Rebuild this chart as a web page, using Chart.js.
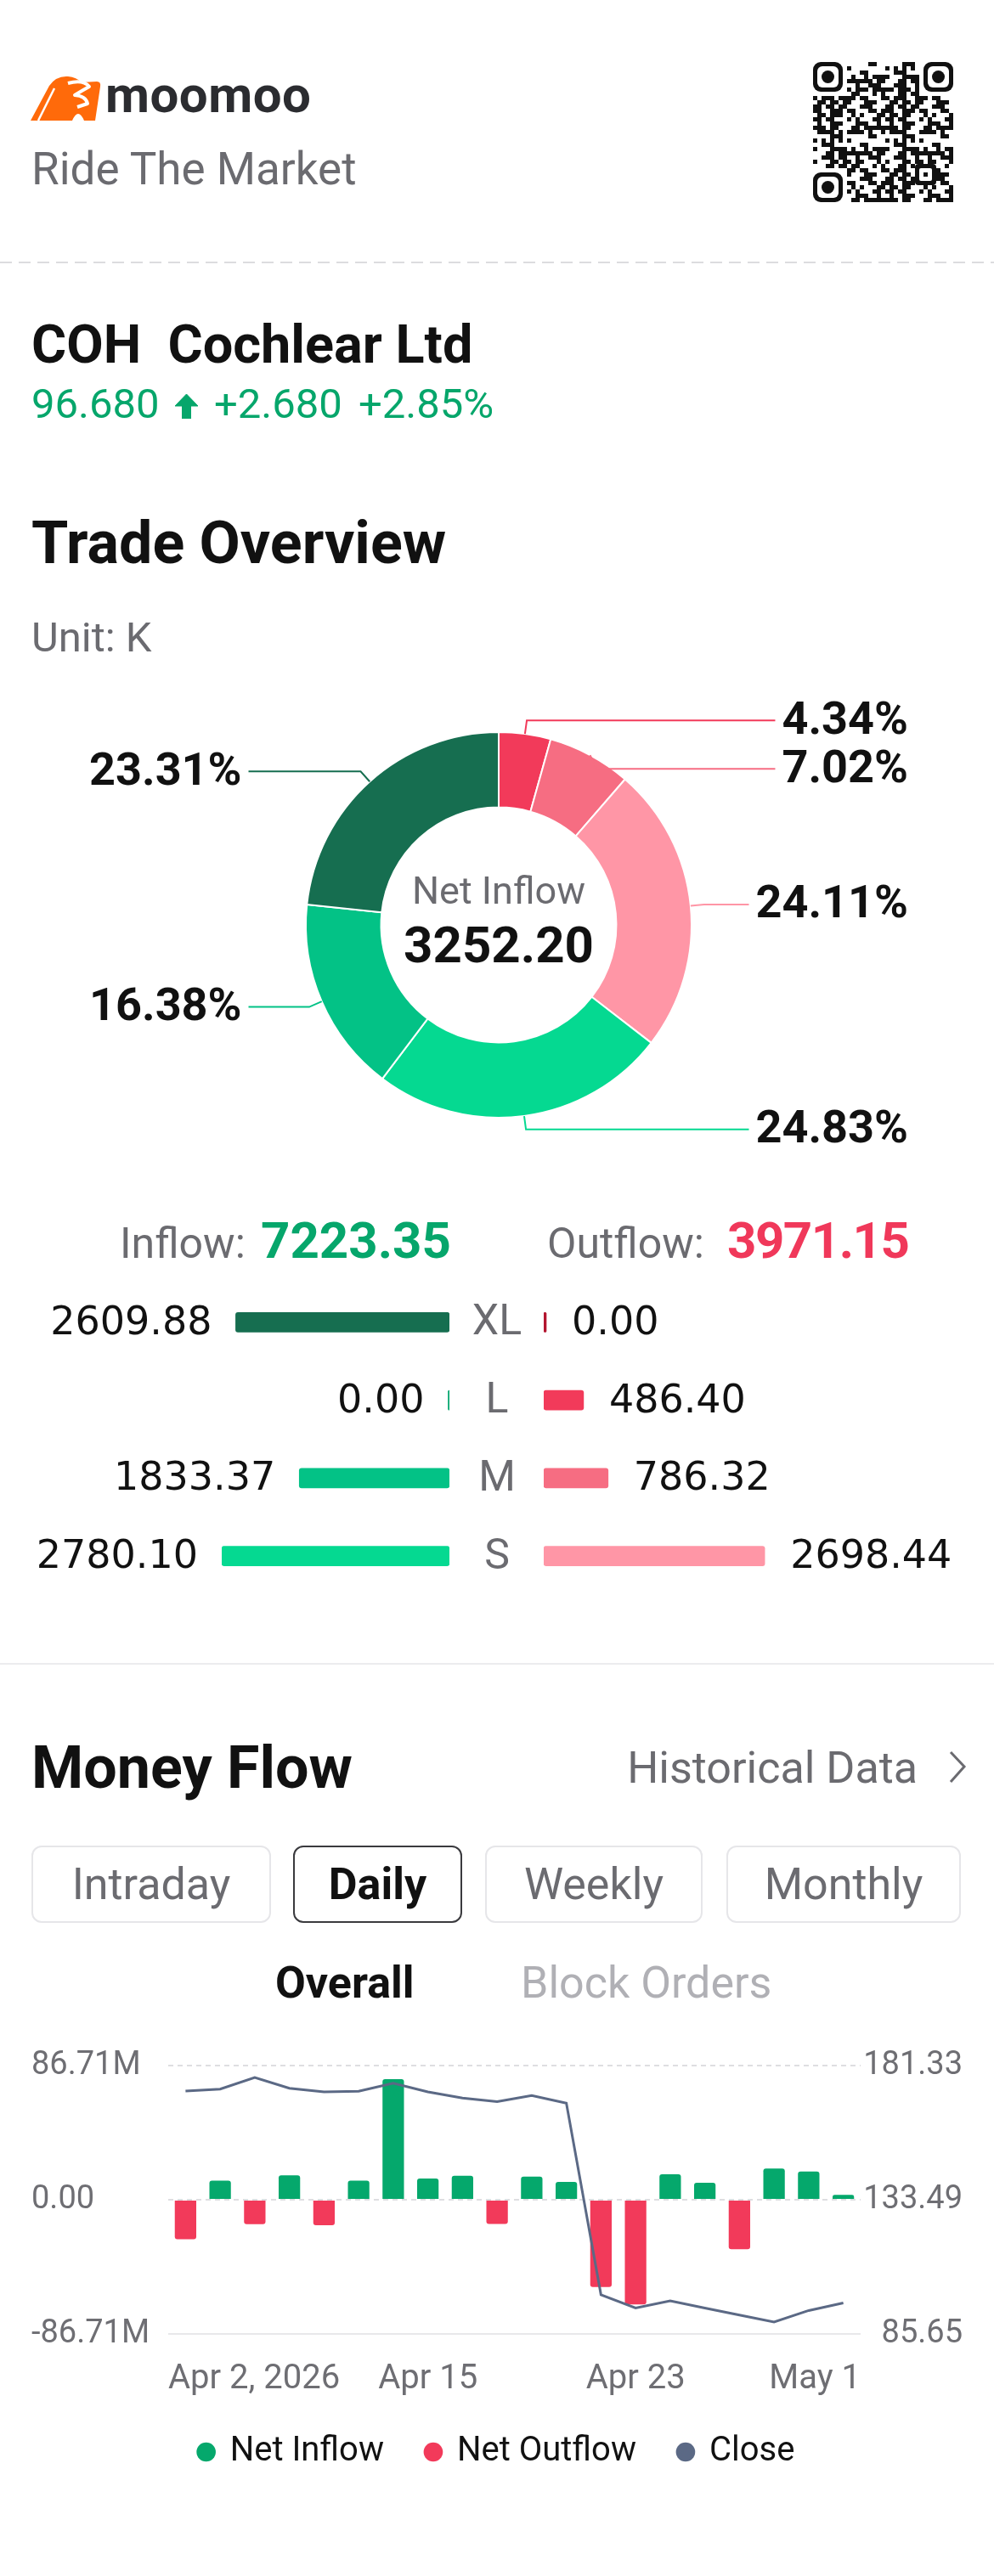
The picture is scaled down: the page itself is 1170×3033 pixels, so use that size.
<!DOCTYPE html>
<html lang="en">
<head>
<meta charset="utf-8">
<title>COH Cochlear Ltd - Money Flow</title>
<script src="https://cdn.jsdelivr.net/npm/chart.js@4.4.1/dist/chart.umd.min.js"></script>
<style>
  html, body { margin: 0; padding: 0; background: #fff; }
  body { position: relative; width: 1170px; height: 3033px; overflow: hidden; font-family: Roboto, "Noto Sans", sans-serif; color: #111; }
  .t { position: absolute; white-space: pre; line-height: 1; }
  .gray { color: #6b6b70; }
  .b { font-weight: 700; }
  canvas, svg { position: absolute; }
  .tab { position: absolute; top: 2173px; height: 91px; box-sizing: border-box; border: 2px solid #e6e6e9; border-radius: 12px;
         display: flex; align-items: center; justify-content: center; font-size: 52px; color: #6b6b70; }
  .tab.on { border-color: #3a3a3e; color: #111; font-weight: 700; }
</style>
</head>
<body>

<!-- header -->
<svg style="left:30px;top:85px" width="95" height="62" viewBox="0 0 95 62">
  <path d="M6 57 L28 16 Q36 4 50 5 Q60 6 66 12 L84 11 Q89 11 88 17 L82 57 L69 57 Q62 41 55 57 Z" fill="#ff6a0a"/>
  <line x1="15" y1="57" x2="34" y2="19" stroke="#fff" stroke-width="2.5"/>
  <path d="M50 13 Q68 8 75 17 Q66 22 58 27 Q71 28 73 37 L61 41" stroke="#fff" stroke-width="4" fill="none" stroke-linejoin="round"/>
</svg>
<div class="t b" style="left:124px;top:82px;font-size:60px;color:#2b2c30;letter-spacing:0.5px">moomoo</div>
<div class="t gray" style="left:37px;top:173px;font-size:53px">Ride The Market</div>
<canvas id="qr" width="165" height="165" style="left:957px;top:73px"></canvas>
<svg style="left:0;top:303px" width="1170" height="12">
  <line x1="0" y1="6" x2="1170" y2="6" stroke="#dcdcdf" stroke-width="2" stroke-dasharray="14 8"/>
</svg>

<!-- quote -->
<div class="t b" style="left:37px;top:374px;font-size:63px">COH  Cochlear Ltd</div>
<div class="t" style="left:37px;top:451px;font-size:49px;color:#06a66b">96.680</div>
<svg style="left:206px;top:464px" width="27" height="29" viewBox="0 0 27 29">
  <path d="M13.5 0 L27 14 L18.5 14 L18.5 29 L8.5 29 L8.5 14 L0 14 Z" fill="#06a66b" stroke="#06a66b" stroke-width="1" stroke-linejoin="round"/>
</svg>
<div class="t" style="left:252px;top:451px;font-size:49px;color:#06a66b">+2.680</div>
<div class="t" style="left:422px;top:451px;font-size:49px;color:#06a66b">+2.85%</div>

<!-- trade overview -->
<div class="t b" style="left:37px;top:604px;font-size:70px">Trade Overview</div>
<div class="t gray" style="left:37px;top:726px;font-size:49px">Unit: K</div>
<canvas id="donut" width="1170" height="600" style="left:0;top:790px"></canvas>

<div class="t gray" style="left:141px;top:1439px;font-size:50px">Inflow:</div>
<div class="t b" style="left:307px;top:1431px;font-size:60px;color:#06a66b" id="inTotal"></div>
<div class="t gray" style="left:644px;top:1439px;font-size:50px">Outflow:</div>
<div class="t b" style="left:856px;top:1431px;font-size:60px;color:#f0385a;letter-spacing:-1.5px" id="outTotal"></div>

<canvas id="inBars" width="540" height="367" style="left:0;top:1511px"></canvas>
<canvas id="outBars" width="630" height="367" style="left:540px;top:1511px"></canvas>

<div style="position:absolute;left:0;top:1958px;width:1170px;height:2px;background:#ececee"></div>

<!-- money flow -->
<div class="t b" style="left:37px;top:2046px;font-size:70px">Money Flow</div>
<div class="t gray" style="right:90px;top:2056px;font-size:52px">Historical Data</div>
<svg style="left:1112px;top:2058px" width="30" height="46" viewBox="0 0 30 46">
  <polyline points="7,5 23,22 7,40" stroke="#6b6b70" stroke-width="3" fill="none"/>
</svg>

<div class="tab" style="left:37px;width:282px">Intraday</div>
<div class="tab on" style="left:345px;width:199px">Daily</div>
<div class="tab" style="left:571px;width:256px">Weekly</div>
<div class="tab" style="left:855px;width:276px">Monthly</div>

<div class="t b" style="left:324px;top:2309px;font-size:52px">Overall</div>
<div class="t" style="left:613px;top:2309px;font-size:52px;color:#b0b0b5">Block Orders</div>

<canvas id="moneyFlow" width="1170" height="516" style="left:0;top:2401px"></canvas>

<script>
Chart.defaults.font.family = 'Roboto';

// trade overview, unit K
const sizes = ['XL', 'L', 'M', 'S'];
const inflow = [2609.88, 0.00, 1833.37, 2780.10];
const outflow = [0.00, 486.40, 786.32, 2698.44];
const inflowTotal = 7223.35;
const outflowTotal = 3971.15;
const netInflow = 3252.20;

const inflowColors = ['#166e50', '#0aa871', '#03c286', '#05d991'];
const outflowColors = ['#b3152f', '#f23a5a', '#f66d82', '#ff96a6'];

// money flow, daily (M) and close price
const dates = ['Apr 2', 'Apr 7', 'Apr 8', 'Apr 9', 'Apr 10', 'Apr 13', 'Apr 14', 'Apr 15', 'Apr 16', 'Apr 17',
               'Apr 20', 'Apr 21', 'Apr 22', 'Apr 23', 'Apr 24', 'Apr 27', 'Apr 28', 'Apr 29', 'Apr 30', 'May 1'];
const netFlow = [-25.5, 12.3, -15.8, 15.8, -16.4, 12.3, 77.9, 13.7, 15.5, -15.7,
                 14.9, 11.5, -56.4, -67.7, 16.4, 11.0, -31.9, 20.2, 18.2, 3.1];
const closePrice = [172.24, 172.96, 177.06, 173.26, 171.94, 172.15, 175.07, 171.94, 169.74, 168.44,
                    170.64, 167.93, 99.62, 94.92, 97.42, 94.90, 92.40, 89.90, 94.00, 96.68];
const flowTicks = [-86.71, 0, 86.71];
const closeTicks = [85.65, 133.49, 181.33];
const dateTicks = ['Apr 2', 'Apr 15', 'Apr 23', 'May 1'];
const dateTickText = ['Apr 2, 2026', 'Apr 15', 'Apr 23', 'May 1'];

document.getElementById('inTotal').textContent = inflowTotal.toFixed(2);
document.getElementById('outTotal').textContent = outflowTotal.toFixed(2);

// qr code (decoration only)
(function () {
  const c = document.getElementById('qr').getContext('2d');
  const n = 33, m = 5;
  c.fillStyle = '#111';
  const inFinder = (x, y) => (x < 8 && y < 8) || (x > n - 9 && y < 8) || (x < 8 && y > n - 9);
  for (let y = 0; y < n; y++) {
    for (let x = 0; x < n; x++) {
      if (inFinder(x, y)) continue;
      if (x >= 24 && x <= 28 && y >= 24 && y <= 28) continue;
      const h = ((x * 37 + 11) * (y * 53 + 7) + x * x * 3 + y * 5) % 17;
      if (h < 8 || (x === 6 && y % 2 === 0) || (y === 6 && x % 2 === 0)) c.fillRect(x * m, y * m, m, m);
    }
  }
  function rr(x, y, w, h, r) { c.beginPath(); c.roundRect(x, y, w, h, r); c.fill(); }
  [[0, 0], [26, 0], [0, 26]].forEach(([fx, fy]) => {
    c.fillStyle = '#111'; rr(fx * m, fy * m, 35, 35, 9);
    c.fillStyle = '#fff'; rr(fx * m + 5, fy * m + 5, 25, 25, 6);
    c.fillStyle = '#111'; c.beginPath(); c.arc(fx * m + 17.5, fy * m + 17.5, 7.5, 0, Math.PI * 2); c.fill();
  });
  c.fillStyle = '#111'; rr(120, 120, 25, 25, 4);
  c.fillStyle = '#fff'; rr(125, 125, 15, 15, 2);
  c.fillStyle = '#111'; c.fillRect(130, 130, 5, 5);
})();

// donut section
const donutValues = outflow.concat(inflow.slice().reverse());
const donutColors = outflowColors.concat(inflowColors.slice().reverse());
const donutNames = sizes.map(s => 'Outflow ' + s).concat(sizes.slice().reverse().map(s => 'Inflow ' + s));
const donutTotal = donutValues.reduce((a, b) => a + b, 0);

const donutLabels = {
  id: 'donutLabels',
  afterDatasetsDraw(chart) {
    const ctx = chart.ctx;
    const meta = chart.getDatasetMeta(0);
    const items = [];
    let cx = 0, cy = 0;
    meta.data.forEach((arc, i) => {
      const p = arc.getProps(['x', 'y', 'startAngle', 'endAngle', 'outerRadius'], true);
      cx = p.x; cy = p.y;
      if (!donutValues[i]) return;
      const a = (p.startAngle + p.endAngle) / 2;
      const r2 = p.outerRadius + 16;
      items.push({
        ox: p.x + Math.cos(a) * p.outerRadius, oy: p.y + Math.sin(a) * p.outerRadius,
        ex: p.x + Math.cos(a) * r2, ly: p.y + Math.sin(a) * r2,
        right: Math.cos(a) >= 0, color: donutColors[i],
        text: (donutValues[i] / donutTotal * 100).toFixed(2) + '%'
      });
    });
    [true, false].forEach(side => {
      const list = items.filter(it => it.right === side).sort((a, b) => a.ly - b.ly);
      for (let k = 1; k < list.length; k++) {
        if (list[k].ly - list[k - 1].ly < 57) list[k].ly = list[k - 1].ly + 57;
      }
    });
    ctx.save();
    ctx.font = 'bold 54px Roboto';
    ctx.textBaseline = 'middle';
    items.forEach(it => {
      const w = ctx.measureText(it.text).width;
      const tx = it.right ? 1069 - w : 105;
      const lx = it.right ? tx - 8 : tx + w + 8;
      ctx.strokeStyle = it.color;
      ctx.lineWidth = 2;
      ctx.beginPath();
      ctx.moveTo(it.ox, it.oy);
      ctx.lineTo(it.ex, it.ly);
      ctx.lineTo(lx, it.ly);
      ctx.stroke();
      ctx.fillStyle = '#111';
      ctx.textAlign = 'left';
      ctx.fillText(it.text, tx, it.ly + 2);
    });
    ctx.textAlign = 'center';
    ctx.fillStyle = '#6b6b70';
    ctx.font = '45px Roboto';
    ctx.fillText('Net Inflow', cx, cy - 36);
    ctx.fillStyle = '#111';
    ctx.font = 'bold 60px Roboto';
    ctx.fillText(netInflow.toFixed(2), cx, cy + 29);
    ctx.restore();
  }
};

new Chart(document.getElementById('donut'), {
  type: 'doughnut',
  data: {
    labels: donutNames,
    datasets: [{ data: donutValues, backgroundColor: donutColors, borderColor: '#fff', borderWidth: 2, hoverOffset: 0 }]
  },
  options: {
    responsive: false, animation: false, events: [],
    cutout: '61%',
    layout: { padding: { left: 359, right: 355, top: 71, bottom: 73 } },
    plugins: { legend: { display: false }, tooltip: { enabled: false } }
  },
  plugins: [donutLabels]
});

// inflow / outflow bars by order size
const flowMax = Math.max(...inflow, ...outflow);

const flowValueLabels = {
  id: 'flowValueLabels',
  afterDatasetsDraw(chart, args, opts) {
    const ctx = chart.ctx;
    const vals = chart.data.datasets[0].data;
    ctx.save();
    ctx.textBaseline = 'middle';
    ctx.font = '46px "DejaVu Sans"';
    ctx.fillStyle = '#111';
    chart.getDatasetMeta(0).data.forEach((bar, i) => {
      const lo = Math.min(bar.x, bar.base), hi = Math.max(bar.x, bar.base);
      if (opts.side === 'left') {
        ctx.textAlign = 'right';
        ctx.fillText(vals[i].toFixed(2), lo - 28, bar.y + 2);
      } else {
        ctx.textAlign = 'left';
        ctx.fillText(vals[i].toFixed(2), hi + 30, bar.y + 2);
      }
    });
    if (opts.side === 'right') {
      const yScale = chart.scales.y;
      ctx.font = '50px Roboto';
      ctx.fillStyle = '#6b6b70';
      ctx.textAlign = 'center';
      sizes.forEach((s, i) => ctx.fillText(s, chart.chartArea.left - 55, yScale.getPixelForValue(i) + 2));
    }
    ctx.restore();
  }
};

function flowBarChart(id, values, colors, side, padding) {
  return new Chart(document.getElementById(id), {
    type: 'bar',
    data: {
      labels: sizes,
      datasets: [{ data: values, backgroundColor: colors, barThickness: 23, borderRadius: 3, borderSkipped: false, minBarLength: 3 }]
    },
    options: {
      indexAxis: 'y', responsive: false, animation: false, events: [],
      layout: { padding: padding },
      scales: {
        x: { display: false, min: 0, max: flowMax, reverse: side === 'left' },
        y: { display: false }
      },
      plugins: { legend: { display: false }, tooltip: { enabled: false }, flowValueLabels: { side: side } }
    },
    plugins: [flowValueLabels]
  });
}
flowBarChart('inBars', inflow, inflowColors, 'left', { left: 261, right: 11, top: 0, bottom: 0 });
flowBarChart('outBars', outflow, outflowColors, 'right', { left: 100, right: 262, top: 0, bottom: 0 });

// money flow chart
const dateLabels = {
  id: 'dateLabels',
  afterDraw(chart) {
    const ctx = chart.ctx;
    const xs = chart.scales.x;
    const area = chart.chartArea;
    ctx.save();
    ctx.font = '40px Roboto';
    ctx.fillStyle = '#6e6e73';
    ctx.textBaseline = 'middle';
    ctx.textAlign = 'left';
    dateTicks.forEach((d, k) => {
      const x = xs.getPixelForValue(dates.indexOf(d));
      const w = ctx.measureText(dateTickText[k]).width;
      const left = Math.min(Math.max(x - w / 2, area.left), area.right - w);
      ctx.fillText(dateTickText[k], left, area.bottom + 54);
    });
    ctx.restore();
  }
};

const tickFont = { family: 'Roboto', size: 38 };

new Chart(document.getElementById('moneyFlow'), {
  data: {
    labels: dates,
    datasets: [
      {
        type: 'bar', label: 'Net Inflow', yAxisID: 'y', grouped: false,
        data: netFlow.map(v => v > 0 ? v : null),
        backgroundColor: '#05a86c', barPercentage: 0.62, categoryPercentage: 1, borderRadius: 3
      },
      {
        type: 'bar', label: 'Net Outflow', yAxisID: 'y', grouped: false,
        data: netFlow.map(v => v < 0 ? v : null),
        backgroundColor: '#f23a5a', barPercentage: 0.62, categoryPercentage: 1, borderRadius: 3
      },
      {
        type: 'line', label: 'Close', yAxisID: 'y1', order: -1,
        data: closePrice,
        borderColor: '#5b6985', backgroundColor: '#5b6985', borderWidth: 3, pointRadius: 0, tension: 0
      }
    ]
  },
  options: {
    responsive: false, animation: false, events: [],
    layout: { padding: { left: 37, right: 37, top: 31, bottom: 0 } },
    scales: {
      x: {
        offset: true,
        grid: { display: false }, border: { display: false }, ticks: { display: false },
        afterFit: s => { s.height = 69; }
      },
      y: {
        position: 'left', min: flowTicks[0], max: flowTicks[flowTicks.length - 1],
        afterBuildTicks: s => { s.ticks = flowTicks.map(v => ({ value: v })); },
        ticks: {
          font: tickFont, color: '#6e6e73', padding: 0, crossAlign: 'far',
          callback: v => v === 0 ? '0.00' : v.toFixed(2) + 'M'
        },
        grid: { drawTicks: false, lineWidth: 2, color: c => c.index === 0 ? '#e8e8ea' : '#dedee1' },
        border: { display: false, dash: c => c.index === 0 ? [] : [6, 5] },
        afterFit: s => { s.width = 161; }
      },
      y1: {
        position: 'right', min: closeTicks[0], max: closeTicks[closeTicks.length - 1],
        afterBuildTicks: s => { s.ticks = closeTicks.map(v => ({ value: v })); },
        ticks: { font: tickFont, color: '#6e6e73', padding: 0, crossAlign: 'far', callback: v => v.toFixed(2) },
        grid: { display: false }, border: { display: false },
        afterFit: s => { s.width = 120; }
      }
    },
    plugins: {
      tooltip: { enabled: false },
      legend: {
        position: 'bottom',
        labels: {
          usePointStyle: true, pointStyle: 'circle', boxWidth: 16, boxHeight: 16, padding: 50,
          color: '#111', font: { family: 'Roboto', size: 40 },
          sort: (a, b) => a.datasetIndex - b.datasetIndex,
          generateLabels: chart => Chart.defaults.plugins.legend.labels.generateLabels(chart)
            .map(item => Object.assign(item, { lineWidth: 0 }))
        }
      }
    }
  },
  plugins: [dateLabels]
});
</script>
</body>
</html>
